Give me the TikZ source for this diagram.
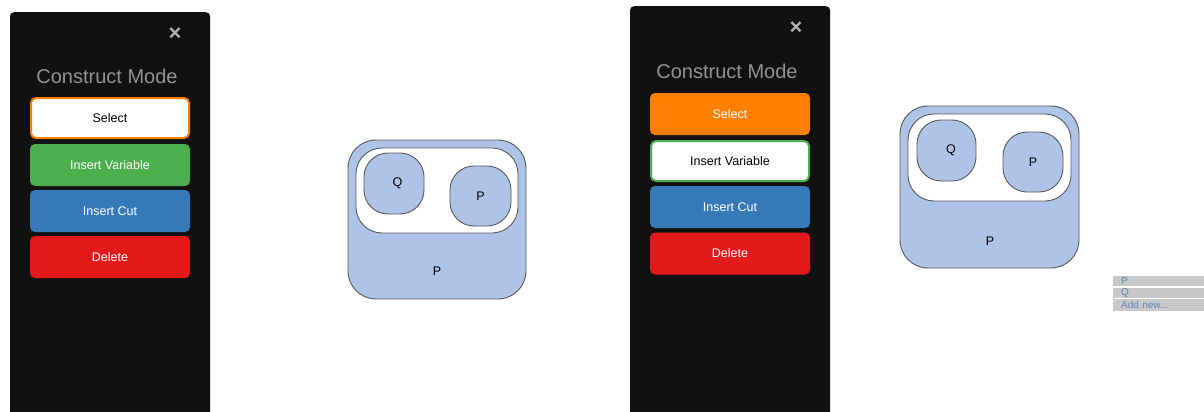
\documentclass[tikz,border=0pt]{standalone}
\usepackage{fontspec}
\setmainfont{Liberation Sans}
\usepackage{xcolor}
\usetikzlibrary{positioning}
\definecolor{panelbg}{HTML}{111111}
\definecolor{btnorange}{HTML}{FF7F00}
\definecolor{btngreen}{HTML}{4CAE4C}
\definecolor{btnblue}{HTML}{357AB7}
\definecolor{btnred}{HTML}{E3191C}
\definecolor{cutfill}{HTML}{AEC4E6}
\definecolor{menufill}{HTML}{C8C8C8}
\definecolor{menutext}{HTML}{5B86BC}
\tikzset{
  panel/.style={fill=panelbg, rounded corners=4pt, minimum width=200pt},
  title/.style={text=gray!85, font=\fontsize{20}{22}\selectfont},
  closex/.style={text=gray!60, font=\fontsize{22}{22}\selectfont\bfseries},
  btn/.style={rounded corners=5pt, minimum width=160pt, minimum height=42pt,
              text=white, font=\fontsize{12.5}{14}\selectfont, inner sep=0pt},
  btnon/.style={btn, fill=white, text=black, draw=#1, line width=2pt,
                minimum width=158pt, minimum height=40pt},
  cut/.style={draw=black!65, fill=cutfill, line width=0.9pt, inner sep=0pt,
              font=\fontsize{12.5}{14}\selectfont},
  hole/.style={cut, fill=white},
  atom/.style={cut, rounded corners=24pt},
  item/.style={fill=menufill, text=menutext, anchor=north west, inner sep=0pt,
               inner xsep=8pt, minimum width=91pt, text width=83pt,
               font=\fontsize{10}{10}\selectfont},
}

\begin{document}
\begin{tikzpicture}[x=1pt, y=-1pt]
  \useasboundingbox[fill=white] (0,0) rectangle (1204,412);
  \clip (0,0) rectangle (1204,412);

  % mode panel, first state
  \node[panel, minimum height=420pt, anchor=north] (panA) at (110,12) {};
  \node[closex] (xA) at (175,34) {×};
  \node[title] (titA) at (107,76) {Construct Mode};
  \node[btnon=btnorange] (selA) at (110,118) {Select};
  \node[btn, fill=btngreen] (varA) at (110,165) {Insert Variable};
  \node[btn, fill=btnblue] (cutA) at (110,211) {Insert Cut};
  \node[btn, fill=btnred] (delA) at (110,257) {Delete};

  % graph on the sheet
  \node[cut, rounded corners=28pt, minimum width=178pt, minimum height=159pt] (outA) at (437,219.5) {};
  \node[hole, rounded corners=26pt, minimum width=162pt, minimum height=85pt] (inA) at (437,190.5) {};
  \node[atom, minimum width=60pt, minimum height=61pt] (qA) at (394,183.5) {\hspace{7pt}Q};
  \node[atom, minimum width=61pt, minimum height=60pt] (pA) at (480.5,196) {P\hspace{9pt}};
  \node[font=\fontsize{12.5}{14}\selectfont] (pOutA) at (437,271) {P};

  % mode panel, second state
  \node[panel, minimum height=420pt, anchor=north] (panB) at (730,6) {};
  \node[closex] (xB) at (796,28) {×};
  \node[title] (titB) at (727,71) {Construct Mode};
  \node[btn, fill=btnorange] (selB) at (730,114) {Select};
  \node[btnon=btngreen] (varB) at (730,161) {Insert Variable};
  \node[btn, fill=btnblue] (cutB) at (730,207) {Insert Cut};
  \node[btn, fill=btnred] (delB) at (730,253.5) {Delete};

  \node[cut, rounded corners=28pt, minimum width=179pt, minimum height=162pt] (outB) at (989.5,187) {};
  \node[hole, rounded corners=26pt, minimum width=163pt, minimum height=87pt] (inB) at (989.5,157.5) {};
  \node[atom, minimum width=59pt, minimum height=61pt] (qB) at (946.5,150.5) {\hspace{9pt}Q};
  \node[atom, minimum width=60pt, minimum height=60pt] (pB) at (1033,162) {P\hspace{11pt}};
  \node[font=\fontsize{12.5}{14}\selectfont] (pOutB) at (990,241) {P};

  % variable picker
  \node[item, minimum height=10pt] (optP) at (1113,276) {P};
  \node[item, minimum height=10pt, below=1pt of optP.south west, anchor=north west] (optQ) {Q};
  \node[item, minimum height=12pt, below=1pt of optQ.south west, anchor=north west] (optNew) {Add new...};
\end{tikzpicture}
\end{document}
